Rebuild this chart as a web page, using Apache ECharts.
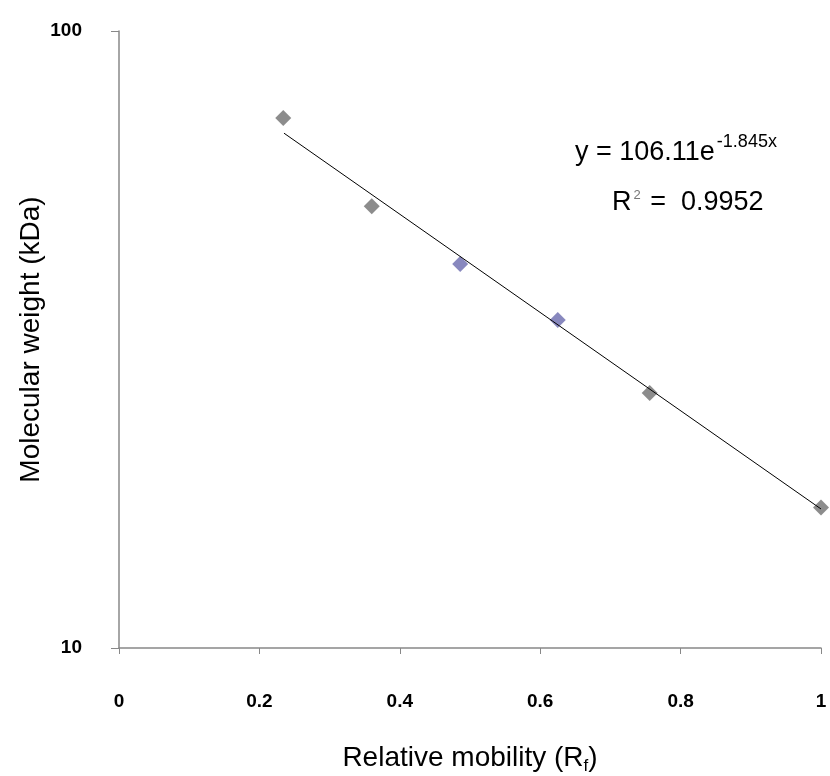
<!DOCTYPE html>
<html>
<head>
<meta charset="utf-8">
<script src="https://cdn.jsdelivr.net/npm/echarts@6/dist/echarts.min.js"></script>
<style>
  html, body { margin: 0; padding: 0; background: #fff; }
  #main { width: 830px; height: 776px; }
</style>
</head>
<body>
<div id="main"></div>
<script>
// marker data (relative mobility, kDa)
var mobility = [0.234, 0.36, 0.486, 0.625, 0.756, 1.0];
var weight = [72.3, 52.0, 41.9, 34.0, 25.9, 16.9];
var markerColors = ['#6f6f6f', '#6f6f6f', '#6a6aae', '#6a6aae', '#6f6f6f', '#6f6f6f'];
// fitted line end points
var trendX = [0.235, 1.0];
var trendY = [68.3, 16.8];
var xTicks = [0, 0.2, 0.4, 0.6, 0.8, 1];

var points = mobility.map(function (x, i) {
    return { value: [x, weight[i]], itemStyle: { color: markerColors[i] } };
});
var trend = trendX.map(function (x, i) { return [x, trendY[i]]; });

var chart = echarts.init(document.getElementById('main'));
chart.setOption({
    backgroundColor: '#ffffff',
    animation: false,
    grid: { left: 119, right: 9, top: 31, bottom: 128, outerBoundsMode: 'none', containLabel: false },
    xAxis: {
        type: 'value',
        min: 0,
        max: 1,
        interval: 0.2,
        name: 'Relative mobility (R{sub|f})',
        nameLocation: 'middle',
        nameGap: 94,
        nameMoveOverlap: false,
        nameTextStyle: {
            fontFamily: 'Liberation Sans',
            fontSize: 28,
            color: '#000',
            rich: {
                sub: { fontSize: 17, verticalAlign: 'bottom', padding: [16, 0, 0, 0], color: '#000' }
            }
        },
        axisLine: { lineStyle: { color: '#888', width: 1.5 } },
        axisTick: { show: true, length: 6, lineStyle: { color: '#888' } },
        axisLabel: {
            margin: 44,
            fontFamily: 'Liberation Sans',
            fontWeight: 'bold',
            fontSize: 19,
            color: '#000',
            formatter: function (v) {
                return xTicks.indexOf(Math.round(v * 10) / 10) >= 0 ? String(Math.round(v * 10) / 10) : '';
            }
        },
        splitLine: { show: false }
    },
    yAxis: {
        type: 'log',
        logBase: 10,
        min: 10,
        max: 100,
        name: 'Molecular weight (kDa)',
        nameLocation: 'middle',
        nameGap: 74,
        nameMoveOverlap: false,
        nameTextStyle: { fontFamily: 'Liberation Sans', fontSize: 28, color: '#000' },
        axisLine: { show: true, lineStyle: { color: '#888', width: 1.5 } },
        axisTick: { show: true, length: 8, lineStyle: { color: '#888' } },
        axisLabel: {
            margin: 37,
            fontFamily: 'Liberation Sans',
            fontWeight: 'bold',
            fontSize: 19,
            color: '#000'
        },
        splitLine: { show: false },
        minorTick: { show: false }
    },
    series: [
        {
            type: 'line',
            data: trend,
            symbol: 'none',
            lineStyle: { color: '#000', width: 1 },
            z: 3
        },
        {
            type: 'scatter',
            data: points,
            symbol: 'diamond',
            symbolSize: 16,
            z: 2
        }
    ],
    graphic: [
        {
            type: 'text',
            left: 575,
            top: 133,
            style: {
                text: '{m|y = 106.11e}{s|-1.845x}',
                rich: {
                    m: { fontFamily: 'Liberation Sans', fontSize: 27, fill: '#000', verticalAlign: 'bottom' },
                    s: { fontFamily: 'Liberation Sans', fontSize: 18, fill: '#000', verticalAlign: 'top', padding: [0, 0, 15, 2] }
                }
            }
        },
        {
            type: 'text',
            left: 612,
            top: 189,
            style: {
                text: '{m|R}{s|2}{m| =  0.9952}',
                rich: {
                    m: { fontFamily: 'Liberation Sans', fontSize: 27, fill: '#000', verticalAlign: 'bottom' },
                    s: { fontFamily: 'Liberation Sans', fontSize: 13, fill: '#777', verticalAlign: 'top', padding: [0, 2, 12, 2] }
                }
            }
        }
    ]
});
</script>
</body>
</html>
